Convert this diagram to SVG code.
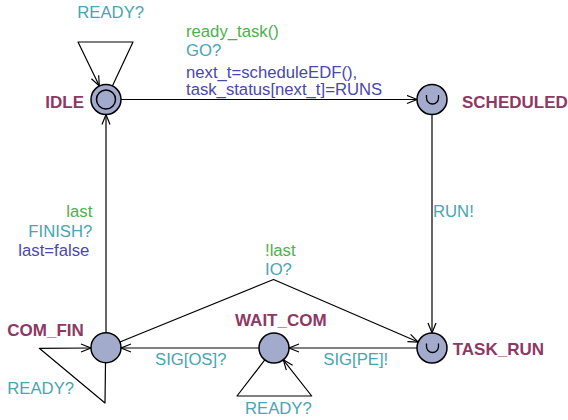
<svg xmlns="http://www.w3.org/2000/svg" width="568" height="420" viewBox="0 0 568 420">
<style>
.node{fill:#a3abcd;stroke:#000;stroke-width:1.5}
.edge{fill:none;stroke:#000;stroke-width:1.2;stroke-linejoin:round}
.name{font-family:"Liberation Sans",Arial,sans-serif;font-weight:bold;font-size:17px;fill:#8e3864}
.t{font-family:"Liberation Sans",Arial,sans-serif;font-size:16.7px}
.g{fill:#4cb04c}
.s{fill:#46a6b3}
.u{fill:#4848ad}
</style>
<defs>
<marker id="arr" markerUnits="userSpaceOnUse" markerWidth="14" markerHeight="12" refX="11" refY="5" orient="auto">
<path d="M1,1 L11,5 L1,9" fill="none" stroke="#000" stroke-width="1.2"/>
</marker>
</defs>
<rect width="568" height="420" fill="#fff"/>
<g id="edges">
<polyline class="edge" points="112.4,85.9 133,42 78,42 99.4,86" marker-end="url(#arr)"/>
<line class="edge" x1="121" y1="99.5" x2="417" y2="99.5" marker-end="url(#arr)"/>
<line class="edge" x1="432" y1="114.5" x2="432" y2="333" marker-end="url(#arr)"/>
<line class="edge" x1="417" y1="348" x2="289" y2="348" marker-end="url(#arr)"/>
<line class="edge" x1="259" y1="348" x2="121" y2="348" marker-end="url(#arr)"/>
<polyline class="edge" points="264.8,359.9 237,396 311.7,396 283.3,359.8" marker-end="url(#arr)"/>
<polyline class="edge" points="105.5,362.7 105,403 39.3,348.3 91,348" marker-end="url(#arr)"/>
<line class="edge" x1="106" y1="332.7" x2="106" y2="114.5" marker-end="url(#arr)"/>
<polyline class="edge" points="119.9,342 273.5,279.5 418.2,342" marker-end="url(#arr)"/>
</g>
<g id="labels">
<text class="t s" x="77.3" y="18.3">READY?</text>
<text class="t g" x="186" y="37">ready_task()</text>
<text class="t s" x="186" y="56">GO?</text>
<text class="t u" x="186" y="78">next_t=scheduleEDF(),</text>
<text class="t u" x="186" y="94.5">task_status[next_t]=RUNS</text>
<text class="t s" x="433" y="217">RUN!</text>
<text class="t g" x="92.3" y="216.5" text-anchor="end">last</text>
<text class="t s" x="92.3" y="236.5" text-anchor="end">FINISH?</text>
<text class="t u" x="89.3" y="255.5" text-anchor="end">last=false</text>
<text class="t g" x="265" y="255.5">!last</text>
<text class="t s" x="265" y="275">IO?</text>
<text class="t s" x="155" y="365">SIG[OS]?</text>
<text class="t s" x="323.3" y="364.5">SIG[PE]!</text>
<text class="t s" x="7.3" y="394">READY?</text>
<text class="t s" x="245" y="414">READY?</text>
</g>
<g id="IDLE">
<circle class="node" cx="106" cy="99.5" r="15"/>
<circle cx="106" cy="99.5" r="9.5" fill="none" stroke="#000" stroke-width="1.5"/>
<text class="name" x="84" y="108.3" text-anchor="end">IDLE</text>
</g>
<g id="SCHEDULED">
<circle class="node" cx="432" cy="99.5" r="15"/>
<path d="M426.5,95 L426.5,98 A6,6 0 0 0 438.5,98 L438.5,95" fill="none" stroke="#000" stroke-width="1.3"/>
<text class="name" x="462" y="108.3">SCHEDULED</text>
</g>
<g id="TASK_RUN">
<circle class="node" cx="432" cy="348" r="15"/>
<path d="M426.5,343.5 L426.5,346.5 A6,6 0 0 0 438.5,346.5 L438.5,343.5" fill="none" stroke="#000" stroke-width="1.3"/>
<text class="name" x="452.7" y="355">TASK_RUN</text>
</g>
<g id="WAIT_COM">
<circle class="node" cx="274" cy="348" r="15"/>
<text class="name" x="235" y="326">WAIT_COM</text>
</g>
<g id="COM_FIN">
<circle class="node" cx="106" cy="347.7" r="15"/>
<text class="name" x="7.3" y="335.7">COM_FIN</text>
</g>
</svg>
